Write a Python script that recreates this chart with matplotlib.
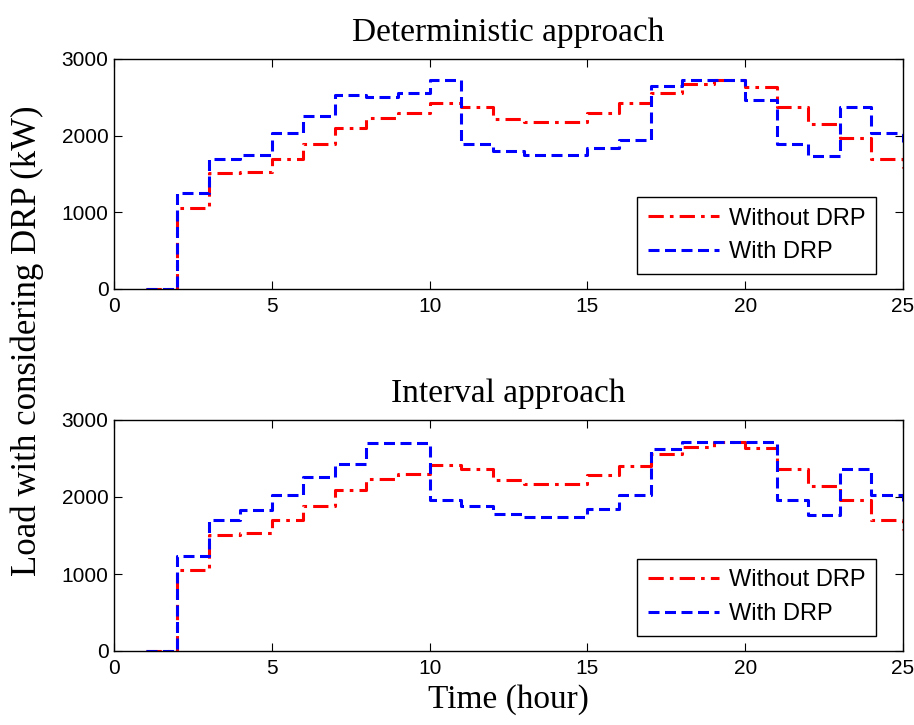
import matplotlib
matplotlib.use("Agg")
import matplotlib.pyplot as plt
import numpy as np

hours = list(range(1, 26))

det_without = [0, 1050, 1510, 1530, 1700, 1890, 2100, 2230, 2300, 2430, 2370, 2220,
               2180, 2180, 2300, 2420, 2560, 2670, 2720, 2630, 2370, 2150, 1970, 1700, 1580]
det_with = [0, 1250, 1700, 1750, 2030, 2260, 2530, 2510, 2560, 2720, 1890, 1800,
            1750, 1750, 1840, 1940, 2650, 2720, 2720, 2470, 1890, 1730, 2370, 2030, 1920]

int_without = [0, 1050, 1510, 1530, 1700, 1880, 2090, 2230, 2300, 2410, 2360, 2220,
               2170, 2170, 2290, 2400, 2560, 2650, 2710, 2630, 2360, 2140, 1960, 1700, 1570]
int_with = [0, 1240, 1700, 1830, 2020, 2260, 2430, 2700, 2700, 1960, 1880, 1780,
            1740, 1740, 1840, 2020, 2620, 2710, 2710, 2710, 1960, 1760, 2360, 2020, 1880]

titles = ["Deterministic approach", "Interval approach"]
series_labels = ["Without DRP", "With DRP"]
xticks = [0, 5, 10, 15, 20, 25]
yticks = [0, 1000, 2000, 3000]

W, H = 914, 725
fig = plt.figure(figsize=(W / 100, H / 100), dpi=100)

serif = "Liberation Serif"
sans = "Liberation Sans"

def add_ax(top_px, bottom_px):
    left_px, right_px = 114, 903
    return fig.add_axes([left_px / W, 1 - bottom_px / H,
                         (right_px - left_px) / W, (bottom_px - top_px) / H])

ax1 = add_ax(59, 289)
ax2 = add_ax(420, 651)

data = [(det_without, det_with), (int_without, int_with)]
for ax, title, (wo, wi) in zip([ax1, ax2], titles, data):
    ax.step(hours, wo, where="post", color="red", lw=2.2,
            dashes=[5, 2, 1.2, 2], label=series_labels[0])
    ax.step(hours, wi, where="post", color="blue", lw=2.2,
            dashes=[3.6, 1.8], label=series_labels[1])
    ax.set_xlim(0, 25)
    ax.set_ylim(0, 3000)
    ax.set_xticks(xticks)
    ax.set_yticks(yticks)
    ax.tick_params(direction="in", top=True, right=True, length=6, width=0.8,
                   labelsize=15)
    ax.tick_params(axis="x", pad=6)
    ax.tick_params(axis="y", pad=4)
    for lbl in ax.get_xticklabels() + ax.get_yticklabels():
        lbl.set_fontfamily(sans)
    for sp in ax.spines.values():
        sp.set_linewidth(1.0)
    ax.set_title(title, fontfamily=serif, fontsize=24, pad=13)
    leg = ax.legend(loc="upper left", bbox_to_anchor=(0.663, 0.40),
                    borderaxespad=0, fancybox=False, framealpha=1,
                    edgecolor="black", prop={"family": sans, "size": 17},
                    handlelength=3.0, handletextpad=0.45, borderpad=0.45,
                    labelspacing=0.5)
    leg.get_frame().set_linewidth(1.0)

ax2.set_xlabel("Time (hour)", fontfamily=serif, fontsize=24, labelpad=4)
fig.text(27 / W, 1 - 341 / H, "Load with considering DRP (kW)", rotation=90,
         ha="center", va="center", fontfamily=serif, fontsize=25)

fig.savefig("out.png", dpi=100)
